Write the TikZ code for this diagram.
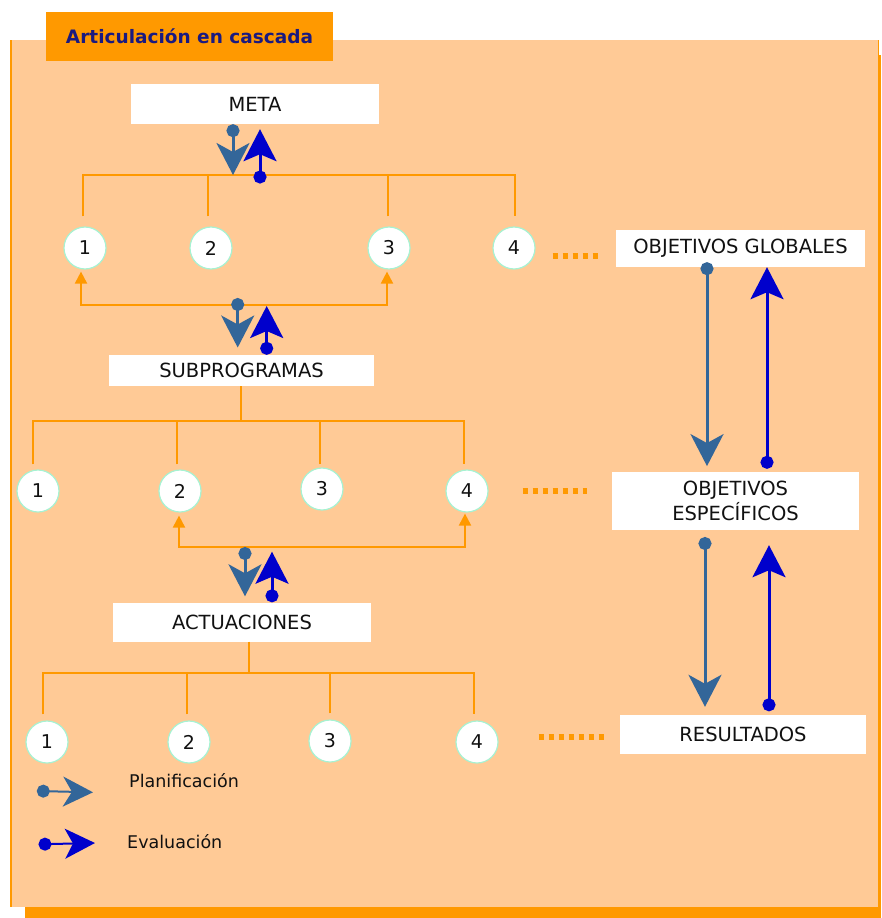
\documentclass[tikz,border=0pt]{standalone}
\usepackage{fontspec}
\setmainfont{DejaVu Sans}
\usetikzlibrary{arrows.meta,calc}

\definecolor{peach}{HTML}{FFCA96}
\definecolor{amber}{HTML}{FF9900}
\definecolor{steel}{HTML}{336699}
\definecolor{evalblue}{HTML}{0000CC}
\definecolor{navytext}{HTML}{1A1A80}
\definecolor{mint}{HTML}{A6F2D2}
\definecolor{ink}{HTML}{111111}

\begin{document}
\begin{tikzpicture}[x=1pt,y=-1pt,
  labelbox/.style 2 args={fill=white, inner sep=0pt, minimum width=#1, minimum height=#2,
    text=ink, font=\fontsize{19.5}{25.7}\selectfont, align=center},
  num/.style={circle, fill=white, draw=mint, line width=1.2pt, minimum size=42pt,
    inner sep=0pt, text=ink, font=\fontsize{19}{21}\selectfont},
  branch/.style={draw=amber, line width=2pt},
  uptips/.style={{Triangle[length=12pt,width=12pt]}-{Triangle[length=12pt,width=12pt]}},
  plan/.style={draw=steel, line width=3pt,
    {Circle[length=13pt,width=13pt]}-{Stealth[length=32pt,width=33pt,inset=9pt]}},
  evalarr/.style={draw=evalblue, line width=3pt,
    {Circle[length=13pt,width=13pt]}-{Stealth[length=32pt,width=33pt,inset=7pt]}},
  keyplan/.style={draw=steel, line width=2pt,
    {Circle[length=13pt,width=13pt]}-{Stealth[length=30pt,width=30pt,inset=9pt]}},
  keyeval/.style={draw=evalblue, line width=2pt,
    {Circle[length=13pt,width=13pt]}-{Stealth[length=30pt,width=30pt,inset=8pt]}},
  dotline/.style={draw=amber, line width=5.5pt, dash pattern=on 5.7pt off 4.3pt},
  keytext/.style={anchor=base west, inner sep=0pt, text=ink, font=\fontsize{17.5}{20}\selectfont}
]
\useasboundingbox (0,0) rectangle (881,918);

% frame with offset shadow
\fill[amber] (25,55) rectangle (881,918);
\fill[peach] (10,40) rectangle (878,906.5);
\draw[amber, line width=2pt] (11,40) -- (11,906.5);
\draw[amber, line width=1pt] (878.5,40) -- (878.5,906.5);

% heading tab
\node[fill=amber, minimum width=287pt, minimum height=49pt, inner sep=0pt,
  text=navytext, font=\bfseries\fontsize{18.5}{20}\selectfont] (title) at (189.5,36.5)
  {Articulación en cascada};

% boxes
\node[labelbox={248pt}{40pt}] (meta) at (255,104) {META};
\node[labelbox={265pt}{31pt}] (subp) at (241.5,370.5) {SUBPROGRAMAS};
\node[labelbox={258pt}{39pt}] (actu) at (242,622) {ACTUACIONES};
\node[labelbox={249pt}{37pt}] (glob) at (740.5,248.5) {OBJETIVOS GLOBALES};
\node[labelbox={247pt}{58pt}] (espec) at (735.5,501) {OBJETIVOS\\ESPECÍFICOS};
\node[labelbox={246pt}{39pt}] (result) at (743,734.5) {RESULTADOS};

% numbered items
\node[num] (a1) at (85,248) {1};
\node[num] (a2) at (211,248) {2};
\node[num] (a3) at (389,248) {3};
\node[num] (a4) at (514,248) {4};
\node[num] (b1) at (38,491) {1};
\node[num] (b2) at (180,491) {2};
\node[num] (b3) at (322,489) {3};
\node[num] (b4) at (467,491) {4};
\node[num] (c1) at (47,742) {1};
\node[num] (c2) at (189,742) {2};
\node[num] (c3) at (330,741) {3};
\node[num] (c4) at (477,742) {4};

% junctions
\coordinate (h1) at (233,175);
\coordinate (k1) at (237.7,304.5);
\coordinate (h2) at (241,421);
\coordinate (k2) at (245,547);
\coordinate (h3) at (249,673);

% first level tree
\draw[branch] ([shift={(-2pt,10pt)}]a1.north) |- (h1) -| ([shift={(1pt,10pt)}]a4.north);
\draw[branch] ([shift={(-3pt,10pt)}]a2.north) -- ([xshift=-3pt]h1 -| a2.north);
\draw[branch] ([shift={(-1pt,10pt)}]a3.north) -- ([xshift=-1pt]h1 -| a3.north);
\draw[branch, uptips] ([shift={(-4pt,-2pt)}]a1.south) |- (k1) -| ([shift={(-2pt,-2pt)}]a3.south);

% second level tree
\draw[branch] (h2 |- subp.south) -- (h2);
\draw[branch] ([shift={(-5pt,5pt)}]b1.north) |- (h2) -| ([shift={(-3pt,5pt)}]b4.north);
\draw[branch] ([shift={(-3pt,5pt)}]b2.north) -- ([xshift=-3pt]h2 -| b2.north);
\draw[branch] ([shift={(-2pt,3pt)}]b3.north) -- ([xshift=-2pt]h2 -| b3.north);
\draw[branch, uptips] ([shift={(-1pt,-3pt)}]b2.south) |- (k2) -| ([shift={(-2pt,-1pt)}]b4.south);

% third level tree
\draw[branch] (h3 |- actu.south) -- (h3);
\draw[branch] ([shift={(-4pt,6pt)}]c1.north) |- (h3) -| ([shift={(-3pt,6pt)}]c4.north);
\draw[branch] ([shift={(-2pt,6pt)}]c2.north) -- ([xshift=-2pt]h3 -| c2.north);
\draw[branch] ([shift={(0pt,6pt)}]c3.north) -- (h3 -| c3.north);

% dotted links to the objectives column
\draw[dotline] ([shift={(17pt,-8pt)}]a4.east) -- ([shift={(-18pt,-7.5pt)}]glob.west);
\draw[dotline] ([xshift=34pt]b4.east) -- ([shift={(-25pt,10pt)}]espec.west);
\draw[dotline] ([shift={(40pt,5pt)}]c4.east) -- ([shift={(-14pt,-2.5pt)}]result.west);

% planning (down) and evaluation (up) flows
\draw[plan] ([xshift=-22pt]meta.south) -- (h1);
\draw[evalarr] ([shift={(27pt,-8.5pt)}]h1) -- ([shift={(5pt,-5pt)}]meta.south);
\draw[plan] ([yshift=6.5pt]k1) -- ([shift={(-3.8pt,7.3pt)}]subp.north);
\draw[evalarr] ([xshift=25.2pt]subp.north) -- ([shift={(29pt,-1.5pt)}]k1);
\draw[plan] (k2) -- ([shift={(3pt,6pt)}]actu.north);
\draw[evalarr] ([xshift=30pt]actu.north) -- ([shift={(27pt,-4.7pt)}]k2);

\draw[plan] ([shift={(-33.5pt,5pt)}]glob.south) -- ([shift={(-28.5pt,5.7pt)}]espec.north);
\draw[evalarr] ([shift={(31.5pt,3pt)}]espec.north) -- ([xshift=26.5pt]glob.south);
\draw[plan] ([shift={(-30.5pt,-6.8pt)}]espec.south) -- ([shift={(-38pt,8pt)}]result.north);
\draw[evalarr] ([shift={(26pt,3.5pt)}]result.north) -- ([shift={(33.5pt,-15pt)}]espec.south);

% key
\coordinate (kp0) at (36.8,791);
\coordinate (kp1) at (93,792.3);
\coordinate (ke0) at (38.5,844.3);
\coordinate (ke1) at (95,843);
\draw[keyplan] (kp0) -- (kp1);
\draw[keyeval] (ke0) -- (ke1);
\node[keytext] (kplan) at (129,787) {Planificación};
\node[keytext] (keval) at (127,848.3) {Evaluación};
\end{tikzpicture}
\end{document}
